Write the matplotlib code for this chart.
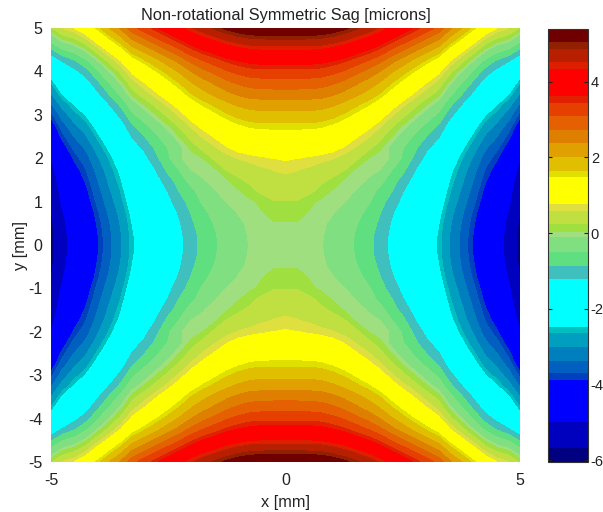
import numpy as np
import matplotlib
matplotlib.use('Agg')
import matplotlib.pyplot as plt
from matplotlib.colors import ListedColormap, BoundaryNorm

plt.rcParams['font.family'] = ['Liberation Sans', 'DejaVu Sans']
plt.rcParams['axes.unicode_minus'] = False

# sag, one quadrant: rows y=0..5, columns x=0..5, step 0.25
sag_quadrant = [
    [-.06, -.06, -.07, -.10, -.20, -.35, -.55, -.75, -1.00, -1.32, -1.62, -1.92, -2.22, -2.52, -3.04, -3.48, -3.93, -4.40, -4.72, -5.20, -5.90],
    [-.05, -.05, -.06, -.09, -.19, -.34, -.54, -.74, -.99, -1.31, -1.61, -1.91, -2.21, -2.51, -3.03, -3.47, -3.92, -4.39, -4.71, -5.19, -5.89],
    [.01, .01, 0, -.07, -.16, -.28, -.48, -.68, -.93, -1.25, -1.55, -1.85, -2.15, -2.45, -2.97, -3.41, -3.86, -4.33, -4.65, -5.13, -5.83],
    [.10, .09, .01, -.05, -.10, -.22, -.39, -.59, -.84, -1.16, -1.46, -1.76, -2.06, -2.36, -2.88, -3.32, -3.77, -4.24, -4.56, -5.04, -5.74],
    [.23, .23, .08, -.03, -.07, -.11, -.26, -.46, -.71, -1.03, -1.33, -1.63, -1.93, -2.23, -2.75, -3.19, -3.64, -4.11, -4.43, -4.91, -5.61],
    [.35, .34, .31, .16, -.01, -.06, -.12, -.34, -.59, -.85, -1.21, -1.51, -1.81, -2.11, -2.63, -3.07, -3.52, -3.99, -4.31, -4.79, -5.49],
    [.48, .47, .42, .30, .20, -.01, -.07, -.12, -.36, -.70, -1.00, -1.38, -1.68, -1.98, -2.50, -2.94, -3.39, -3.86, -4.18, -4.66, -5.36],
    [.62, .58, .52, .44, .36, .27, -.02, -.08, -.11, -.48, -.78, -1.20, -1.54, -1.84, -2.36, -2.80, -3.25, -3.72, -4.04, -4.52, -5.22],
    [.80, .76, .70, .64, .57, .44, .30, .02, -.08, -.12, -.60, -.95, -1.36, -1.66, -2.18, -2.62, -3.07, -3.54, -3.86, -4.32, -4.98],
    [1.02, 1.02, 1.01, .98, .88, .73, .53, .33, .08, -.20, -.50, -.80, -1.14, -1.44, -1.96, -2.40, -2.85, -3.32, -3.64, -4.08, -4.74],
    [1.28, 1.28, 1.27, 1.24, 1.14, .99, .79, .59, .34, .02, -.28, -.58, -.88, -1.18, -1.70, -2.14, -2.59, -3.06, -3.38, -3.82, -4.46],
    [1.55, 1.55, 1.54, 1.51, 1.41, 1.26, 1.06, .86, .61, .29, -.01, -.31, -.61, -.91, -1.43, -1.87, -2.32, -2.79, -3.11, -3.54, -4.17],
    [1.87, 1.87, 1.86, 1.83, 1.73, 1.58, 1.38, 1.18, .93, .61, .31, .01, -.29, -.59, -1.11, -1.55, -2.00, -2.47, -2.79, -3.22, -3.84],
    [2.20, 2.20, 2.19, 2.16, 2.06, 1.91, 1.71, 1.51, 1.26, .94, .64, .34, .04, -.26, -.78, -1.22, -1.67, -2.14, -2.46, -2.86, -3.46],
    [2.58, 2.58, 2.57, 2.54, 2.44, 2.29, 2.09, 1.89, 1.64, 1.32, 1.02, .72, .42, .12, -.40, -.84, -1.29, -1.76, -2.08, -2.46, -3.04],
    [2.92, 2.92, 2.91, 2.88, 2.78, 2.63, 2.43, 2.23, 1.98, 1.66, 1.36, 1.06, .76, .46, -.06, -.50, -.95, -1.42, -1.74, -2.10, -2.66],
    [3.30, 3.30, 3.29, 3.26, 3.16, 3.01, 2.81, 2.61, 2.36, 2.04, 1.74, 1.44, 1.14, .84, .32, -.12, -.57, -1.04, -1.36, -1.69, -2.24],
    [3.74, 3.74, 3.73, 3.70, 3.60, 3.45, 3.25, 3.05, 2.80, 2.48, 2.18, 1.88, 1.58, 1.28, .76, .32, -.13, -.60, -.92, -1.20, -1.65],
    [4.28, 4.28, 4.27, 4.24, 4.14, 3.99, 3.79, 3.59, 3.34, 3.02, 2.72, 2.42, 2.12, 1.82, 1.30, .86, .41, -.06, -.38, -.56, -.96],
    [4.85, 4.85, 4.84, 4.81, 4.71, 4.56, 4.36, 4.16, 3.91, 3.59, 3.29, 2.99, 2.69, 2.39, 1.87, 1.43, .98, .51, .19, .01, -.39],
    [5.40, 5.40, 5.39, 5.36, 5.26, 5.11, 4.91, 4.71, 4.46, 4.14, 3.84, 3.54, 3.24, 2.94, 2.42, 1.98, 1.53, 1.06, .74, .56, .16],
]

# colour bands of the colorbar, bottom to top
band_edges = [-6.03, -5.68, -4.98, -3.89, -3.70, -3.37, -3.00, -2.64, -2.47, -1.21, -.86, -.50, -.11, .03,
              .25, .57, .77, 1.48, 1.65, 2.01, 2.38, 2.73, 3.08, 3.43, 3.61, 4.34, 4.52, 4.87, 5.05, 5.40]
band_colors = ['#000080', '#0000bf', '#0000ff', '#0040bf', '#005fbf', '#007fbf', '#009fbf', '#00bfbf', '#00ffff',
               '#40bfbf', '#60df80', '#80df80', '#a0df80', '#a0df40', '#c0df40', '#dfdf40', '#ffff00', '#dfdf00',
               '#dfbf00', '#dfa000', '#df7f00', '#e56000', '#e64000', '#e02000', '#ff0000', '#dd1f00', '#b81e00',
               '#902000', '#700000']
x_ticks = [-5, 0, 5]
y_ticks = [-5, -4, -3, -2, -1, 0, 1, 2, 3, 4, 5]
cbar_ticks = [-6, -4, -2, 0, 2, 4]

q = np.array(sag_quadrant)
sag = np.vstack([q[:0:-1], q])
sag = np.hstack([sag[:, :0:-1], sag])
grid = np.linspace(-5, 5, sag.shape[0])

cmap = ListedColormap(band_colors)
norm = BoundaryNorm(band_edges, cmap.N)

W, H = 603, 512
fig = plt.figure(figsize=(W / 100, H / 100), dpi=100)
ax = fig.add_axes([51 / W, 1 - 462 / H, 469 / W, 434 / H])
cs = ax.contourf(grid, grid, sag, levels=band_edges, cmap=cmap, norm=norm)
cs.set_edgecolor('face')
ax.set_xlim(-5, 5)
ax.set_ylim(-5, 5)
ax.set_xticks(x_ticks)
ax.set_yticks(y_ticks)
ax.tick_params(length=0, labelsize=11.5, colors='#222222')
ax.tick_params(axis='x', pad=8)
ax.tick_params(axis='y', pad=6)
for s in ax.spines.values():
    s.set_visible(False)
ax.set_title('Non-rotational Symmetric Sag [microns]', fontsize=11.8, color='#222222', pad=6)
ax.set_xlabel('x [mm]', fontsize=11.8, color='#222222', labelpad=5)
ax.set_ylabel('y [mm]', fontsize=11.8, color='#222222', labelpad=0)

cax = fig.add_axes([548 / W, 1 - 461.5 / H, 40 / W, 433 / H])
cb = fig.colorbar(cs, cax=cax, spacing='proportional', ticks=cbar_ticks)
cb.ax.tick_params(direction='in', left=True, right=True, length=3, width=.8, labelsize=10.5,
                  colors='#222222', pad=2)
cb.ax.minorticks_off()
cb.outline.set_edgecolor('#333333')
cb.outline.set_linewidth(.8)

fig.savefig('out.png', dpi=100)
